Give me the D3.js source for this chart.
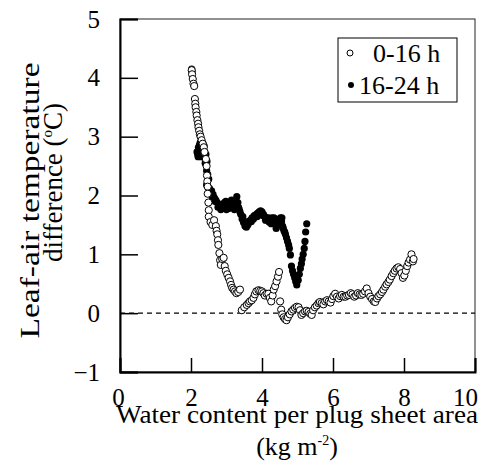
<!DOCTYPE html>
<html>
<head>
<meta charset="utf-8">
<script src="https://cdn.jsdelivr.net/npm/d3@7"></script>
<style>
  body { margin: 0; background: #fff; }
  svg text { font-family: "Liberation Serif", "Times New Roman", serif; fill: #000; }
</style>
</head>
<body>
<div id="chart"></div>
<script>
// 0-16 h (open circles): [water content, leaf-air temp diff]
const dayPoints = [
  [2.02,4.13],[2.03,4.06],[2.05,3.98],[2.07,3.90],[2.09,3.86],[2.11,3.64],[2.12,3.56],[2.13,3.50],
  [2.15,3.42],[2.16,3.36],[2.18,3.28],[2.20,3.22],[2.21,3.16],[2.23,3.10],[2.25,3.04],[2.27,3.00],
  [2.30,2.94],[2.33,2.88],[2.36,2.82],[2.38,2.74],[2.42,2.62],[2.44,2.50],[2.45,2.34],[2.46,2.24],
  [2.47,2.15],[2.47,2.03],[2.49,1.88],[2.50,1.75],[2.50,1.64],[2.55,1.55],[2.60,1.50],[2.65,1.58],
  [2.70,1.48],[2.72,1.40],[2.74,1.34],[2.76,1.24],[2.77,1.16],[2.80,1.02],[2.82,0.90],[2.84,0.82],
  [2.88,0.92],[2.92,0.94],[2.95,0.80],[2.98,0.72],[3.02,0.66],[3.06,0.60],[3.10,0.54],[3.13,0.48],
  [3.16,0.43],[3.20,0.40],[3.24,0.37],[3.28,0.34],[3.33,0.36],[3.38,0.40],
  [3.43,0.05],[3.50,0.10],[3.57,0.14],[3.62,0.17],[3.66,0.20],[3.71,0.22],[3.76,0.26],[3.80,0.32],
  [3.84,0.37],[3.90,0.39],[3.95,0.38],[4.00,0.37],[4.04,0.34],[4.08,0.30],[4.13,0.33],[4.18,0.33],
  [4.22,0.26],[4.26,0.20],[4.30,0.30],[4.33,0.40],[4.37,0.46],[4.41,0.54],[4.45,0.62],[4.48,0.70],
  [4.51,0.20],[4.54,0.06],[4.57,-0.02],[4.61,-0.07],[4.65,-0.10],[4.69,-0.12],[4.73,-0.07],[4.78,-0.02],
  [4.83,0.03],[4.88,0.06],[4.93,0.09],[4.98,0.11],[5.03,0.10],[5.07,0.05],[5.11,-0.03],[5.16,0.00],
  [5.21,0.03],[5.26,0.04],[5.31,0.02],[5.36,-0.01],[5.40,-0.03],[5.44,0.05],[5.49,0.10],[5.54,0.13],
  [5.59,0.17],[5.63,0.19],[5.68,0.17],[5.73,0.15],[5.78,0.20],[5.83,0.22],[5.88,0.20],[5.93,0.18],
  [5.97,0.24],[6.01,0.29],[6.06,0.33],[6.11,0.28],[6.16,0.25],[6.20,0.29],[6.25,0.31],[6.30,0.28],
  [6.35,0.28],[6.40,0.30],[6.45,0.31],[6.50,0.34],[6.55,0.32],[6.60,0.28],[6.65,0.30],[6.70,0.34],
  [6.75,0.32],[6.80,0.31],[6.85,0.33],[6.90,0.37],[6.95,0.42],[7.00,0.34],[7.05,0.28],[7.10,0.24],
  [7.15,0.20],[7.19,0.19],[7.24,0.25],[7.28,0.29],[7.33,0.32],[7.38,0.36],[7.42,0.40],[7.47,0.45],
  [7.51,0.49],[7.56,0.53],[7.60,0.57],[7.65,0.63],[7.70,0.68],[7.74,0.72],[7.79,0.76],[7.84,0.78],
  [7.89,0.75],[7.93,0.68],[7.97,0.60],[8.01,0.64],[8.05,0.72],[8.09,0.80],[8.13,0.86],[8.17,0.91],
  [8.21,1.00],[8.25,0.88],[8.27,0.92]
];

// 16-24 h (filled dots)
const nightPoints = [
  [2.02,4.15],[2.03,4.10],[2.17,2.74],[2.19,2.70],[2.20,2.66],[2.22,2.78],[2.24,2.86],[2.26,2.90],
  [2.28,2.72],[2.30,2.80],[2.32,2.84],[2.34,2.88],[2.36,2.76],[2.38,2.64],[2.40,2.55],[2.44,2.42],
  [2.21,2.82],[2.25,2.76],[2.29,2.66],[2.33,2.74],[2.37,2.84],[2.42,2.70],[2.45,2.58],
  [2.47,2.36],[2.50,2.28],[2.44,2.18],[2.48,2.14],[2.52,2.12],[2.58,2.08],[2.62,2.02],[2.66,1.96],
  [2.70,1.92],[2.74,1.88],[2.78,1.85],[2.82,1.82],[2.86,1.80],[2.90,1.84],[2.94,1.88],[2.98,1.90],
  [2.60,1.98],[2.68,1.90],[2.76,1.80],[2.84,1.76],[2.92,1.78],[3.00,1.76],[3.04,1.88],[3.12,1.80],
  [3.02,1.82],[3.06,1.78],[3.10,1.86],[3.14,1.92],[3.18,1.82],[3.22,1.76],[3.26,1.90],[3.29,1.98],
  [3.20,1.88],[3.24,1.80],[3.28,1.84],[3.34,1.80],[3.38,1.72],[3.46,1.64],[3.54,1.52],[3.62,1.56],
  [3.32,1.88],[3.36,1.76],[3.40,1.68],[3.44,1.60],[3.48,1.54],[3.52,1.48],[3.56,1.46],[3.60,1.50],
  [3.64,1.54],[3.68,1.58],[3.72,1.62],[3.76,1.60],[3.80,1.64],[3.84,1.68],[3.88,1.70],[3.92,1.72],
  [3.70,1.56],[3.78,1.66],[3.86,1.64],[3.94,1.68],[4.02,1.66],[4.10,1.58],[4.18,1.62],[4.26,1.52],
  [3.96,1.74],[4.00,1.72],[4.04,1.68],[4.08,1.64],[4.12,1.60],[4.16,1.58],[4.20,1.55],[4.24,1.58],
  [4.28,1.62],[4.32,1.58],[4.36,1.52],[4.40,1.44],[4.44,1.50],[4.48,1.58],[4.52,1.62],[4.55,1.56],
  [4.34,1.62],[4.42,1.54],[4.50,1.52],[4.56,1.62],[4.60,1.44],[4.64,1.38],
  [4.58,1.48],[4.62,1.40],[4.66,1.34],[4.69,1.28],[4.72,1.22],[4.75,1.16],[4.77,1.10],[4.80,0.99],
  [4.83,0.80],[4.86,0.72],[4.89,0.66],[4.92,0.60],[4.95,0.54],[4.98,0.48],[5.02,0.56],[5.05,0.66],
  [5.08,0.76],[5.11,0.84],[5.13,0.92],[5.16,1.00],[5.19,1.10],[5.21,1.22],[5.23,1.38],[5.26,1.52]
];

const xTicks = [0, 2, 4, 6, 8, 10];
const yTicks = [-1, 0, 1, 2, 3, 4, 5];
const legendLabels = ['0-16 h', '16-24 h'];

const width = 483;
const height = 468;
const margin = { top: 19, right: 8, bottom: 96, left: 120 };
const serif = '"Liberation Serif", "Times New Roman", serif';

const x = d3.scaleLinear().domain([0, 10]).range([margin.left, width - margin.right]);
const y = d3.scaleLinear().domain([-1, 5]).range([height - margin.bottom, margin.top]);

const svg = d3.select('#chart').append('svg')
  .attr('width', width)
  .attr('height', height);

// frame: top/right thin
svg.append('rect')
  .attr('x', x(0)).attr('y', y(5))
  .attr('width', x(10) - x(0)).attr('height', y(-1) - y(5))
  .attr('fill', 'none').attr('stroke', '#222').attr('stroke-width', 1);

// zero reference line
svg.append('line')
  .attr('x1', x(0)).attr('x2', x(10))
  .attr('y1', y(0)).attr('y2', y(0))
  .attr('stroke', '#000').attr('stroke-width', 1.2)
  .attr('stroke-dasharray', '5,4');

// axes, ticks pointing inward
const xAxis = svg.append('g')
  .attr('transform', `translate(0,${y(-1)})`)
  .call(d3.axisBottom(x).tickValues(xTicks).tickSize(-14).tickPadding(16).tickFormat(d3.format('d')));
const yAxis = svg.append('g')
  .attr('transform', `translate(${x(0)},0)`)
  .call(d3.axisLeft(y).tickValues(yTicks).tickSize(-18).tickPadding(20).tickFormat(d3.format('d')));

[xAxis, yAxis].forEach(g => {
  g.attr('font-family', serif).attr('font-size', 25);
  g.select('.domain').attr('stroke', '#000').attr('stroke-width', 2);
  g.selectAll('.tick line').attr('stroke', '#000').attr('stroke-width', 1.5);
  g.selectAll('.tick text').style('font-family', serif).style('font-size', '25px').attr('fill', '#000');
});
// last x label sits a bit left of the corner
xAxis.selectAll('.tick text').filter(d => d === 10).attr('dx', -10);
xAxis.selectAll('.tick text').filter(d => d === 0).attr('dx', -2);

// points
svg.append('g').selectAll('circle')
  .data(nightPoints)
  .join('circle')
  .attr('cx', d => x(d[0]))
  .attr('cy', d => y(d[1]))
  .attr('r', 3.6)
  .attr('fill', '#000');

svg.append('g').selectAll('circle')
  .data(dayPoints)
  .join('circle')
  .attr('cx', d => x(d[0]))
  .attr('cy', d => y(d[1]))
  .attr('r', 3.6)
  .attr('fill', '#fff')
  .attr('stroke', '#000')
  .attr('stroke-width', 1);

// legend
const legend = svg.append('g');
legend.append('rect')
  .attr('x', 338).attr('y', 38).attr('width', 119).attr('height', 64)
  .attr('fill', '#fff').attr('stroke', '#000').attr('stroke-width', 1);
legend.append('circle').attr('cx', 350).attr('cy', 53).attr('r', 3)
  .attr('fill', '#fff').attr('stroke', '#000').attr('stroke-width', 1);
legend.append('text').attr('x', 373).attr('y', 62).style('font-size', '26px').text(legendLabels[0]);
legend.append('circle').attr('cx', 351).attr('cy', 85).attr('r', 3).attr('fill', '#000');
legend.append('text').attr('x', 359).attr('y', 94).style('font-size', '26px').text(legendLabels[1]);

// x axis title
svg.append('text')
  .attr('text-anchor', 'middle')
  .attr('x', 297).attr('y', 423)
  .attr('textLength', 362).attr('lengthAdjust', 'spacingAndGlyphs')
  .style('font-size', '26px')
  .text('Water content per plug sheet area');
const xt2 = svg.append('text')
  .attr('text-anchor', 'middle')
  .attr('x', 297).attr('y', 455)
  .style('font-size', '26px');
xt2.append('tspan').text('(kg m');
xt2.append('tspan').attr('dy', -10).style('font-size', '14px').text('-2');
xt2.append('tspan').attr('dy', 10).text(')');

// y axis title
const midY = (y(5) + y(-1)) / 2;
svg.append('text')
  .attr('text-anchor', 'middle')
  .attr('transform', `translate(39,${midY + 5}) rotate(-90)`)
  .attr('textLength', 276).attr('lengthAdjust', 'spacingAndGlyphs')
  .style('font-size', '27px')
  .text('Leaf-air temperature');
const yt2 = svg.append('text')
  .attr('text-anchor', 'middle')
  .attr('transform', `translate(62,${midY - 13}) rotate(-90)`)
  .style('font-size', '27px');
yt2.append('tspan').text('difference (');
yt2.append('tspan').attr('dy', -10).style('font-size', '15px').text('o');
yt2.append('tspan').attr('dy', 10).text('C)');
</script>
</body>
</html>
